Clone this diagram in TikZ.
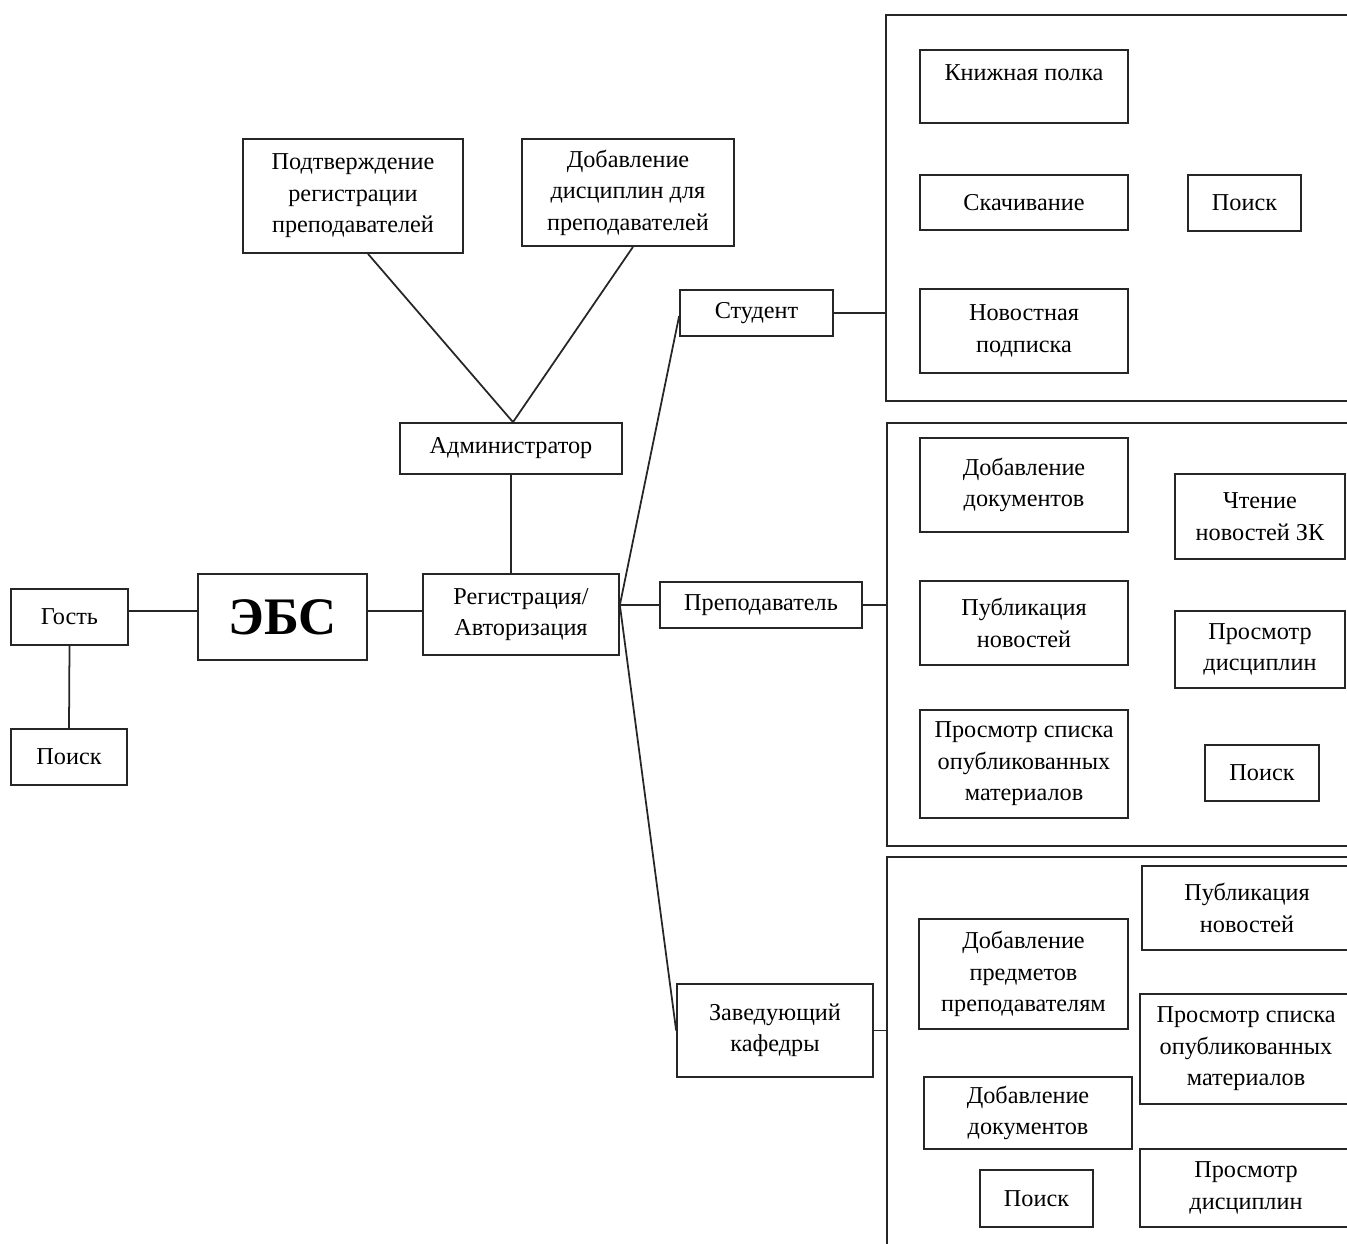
\documentclass[tikz,border=0pt]{standalone}
\usepackage{fontspec}
\setmainfont{Liberation Serif}
\usetikzlibrary{calc}
\tikzset{
  box/.style={draw=black!85, line width=1pt, align=center, inner sep=0pt},
  grp/.style={draw=black!85, line width=1pt, inner sep=0pt},
  conn/.style={draw=black!85, line width=1pt},
  raised/.style={text depth=16pt}
}
\begin{document}
\begin{tikzpicture}[x=0.02cm,y=-0.02cm,
  every node/.style={font=\fontsize{13.8}{17.9}\selectfont}]
\useasboundingbox (0,0) rectangle (1347,1244);
\clip (0,0) rectangle (1347,1244);

% group frames
\node[grp, minimum width=9.48cm, minimum height=7.72cm] (g1) at (1123,208) {};
\node[grp, minimum width=9.46cm, minimum height=8.46cm] (g2) at (1123.5,634.5) {};
\node[grp, minimum width=9.46cm, minimum height=8.26cm] (g3) at (1123.5,1063.5) {};

% left part
\node[box, minimum width=2.34cm, minimum height=1.12cm] (gost) at (69.5,617) {Гость};
\node[box, minimum width=2.32cm, minimum height=1.12cm] (poisk0) at (69,757) {Поиск};
\node[box, minimum width=3.38cm, minimum height=1.72cm, font=\fontsize{30}{34}\selectfont\bfseries] (ebs) at (282.5,617) {ЭБС};
\node[box, minimum width=3.92cm, minimum height=1.62cm] (reg) at (521,614.5) {Регистрация/\\Авторизация};
\node[box, minimum width=4.44cm, minimum height=1.02cm] (admin) at (511,448.5) {Администратор};
\node[box, minimum width=4.4cm, minimum height=2.28cm] (pod) at (353,196) {Подтверждение\\регистрации\\преподавателей};
\node[box, minimum width=4.24cm, minimum height=2.14cm] (dobd) at (628,192.5) {Добавление\\дисциплин для\\преподавателей};

% roles
\node[box, minimum width=3.06cm, minimum height=0.92cm] (stud) at (756.5,313) {Студент};
\node[box, minimum width=4.04cm, minimum height=0.92cm] (prep) at (761,605) {Преподаватель};
\node[box, minimum width=3.92cm, minimum height=1.86cm] (zav) at (775,1030.5) {Заведующий\\кафедры};

% group 1: student
\node[box, minimum width=4.16cm, minimum height=1.46cm, raised] (kp) at (1024,86.5) {Книжная полка};
\node[box, minimum width=4.16cm, minimum height=1.1cm] (skach) at (1024,202.5) {Скачивание};
\node[box, minimum width=2.26cm, minimum height=1.12cm] (poisk1) at (1244.5,203) {Поиск};
\node[box, minimum width=4.16cm, minimum height=1.68cm] (news) at (1024,331) {Новостная\\подписка};

% group 2: teacher
\node[box, minimum width=4.16cm, minimum height=1.88cm] (dd2) at (1024,485) {Добавление\\документов};
\node[box, minimum width=3.4cm, minimum height=1.7cm] (chten) at (1260,516.5) {Чтение\\новостей ЗК};
\node[box, minimum width=4.16cm, minimum height=1.68cm] (pub2) at (1024,623) {Публикация\\новостей};
\node[box, minimum width=3.4cm, minimum height=1.54cm] (pd2) at (1260,649.5) {Просмотр\\дисциплин};
\node[box, minimum width=4.16cm, minimum height=2.16cm] (ps2) at (1024,764) {Просмотр списка\\опубликованных\\материалов};
\node[box, minimum width=2.28cm, minimum height=1.12cm] (poisk2) at (1262,773) {Поиск};

% group 3: head of department
\node[box, minimum width=4.2cm, minimum height=1.68cm] (pub3) at (1247,908) {Публикация\\новостей};
\node[box, minimum width=4.18cm, minimum height=2.2cm] (dp3) at (1023.5,974) {Добавление\\предметов\\преподавателям};
\node[box, minimum width=4.24cm, minimum height=2.2cm] (ps3) at (1246,1049) {Просмотр списка\\опубликованных\\материалов};
\node[box, minimum width=4.16cm, minimum height=1.44cm] (dd3) at (1028,1113) {Добавление\\документов};
\node[box, minimum width=2.26cm, minimum height=1.14cm] (poisk3) at (1036.5,1198.5) {Поиск};
\node[box, minimum width=4.24cm, minimum height=1.56cm] (pd3) at (1246,1188) {Просмотр\\дисциплин};

% connectors
\coordinate (a1) at ($(gost.east)+(0,-6)$);
\draw[conn] (a1) -- (a1 -| ebs.west);
\draw[conn] (a1 -| ebs.east) -- (a1 -| reg.west);
\draw[conn] (gost.south) -- (poisk0.north);
\draw[conn] (admin.south) -- (admin.south |- reg.north);
\draw[conn] ($(pod.south)+(15,0)$) -- ($(admin.north)+(2,0)$);
\draw[conn] ($(dobd.south)+(5,0)$) -- ($(admin.north)+(2,0)$);
\coordinate (j) at (reg.east |- prep.west);
\draw[conn] (j) -- ($(stud.west)+(0,3)$);
\draw[conn] (j) -- (prep.west);
\draw[conn] (j) -- (zav.west);
\draw[conn] (stud.east) -- (stud.east -| g1.west);
\draw[conn] (prep.east) -- (prep.east -| g2.west);
\draw[conn] (zav.east) -- (zav.east -| g3.west);
\end{tikzpicture}
\end{document}
